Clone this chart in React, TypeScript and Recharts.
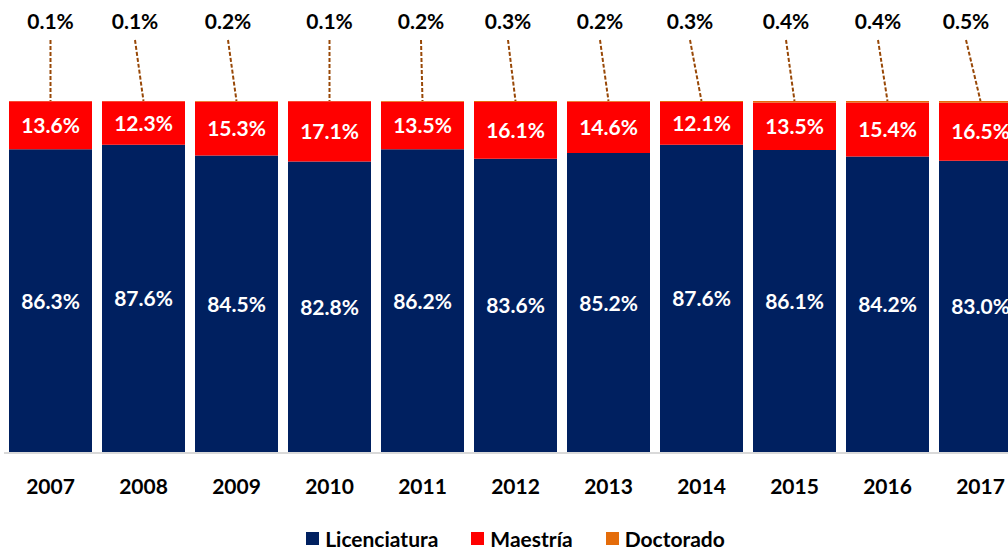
import React from 'react';
import { BarChart, Bar, XAxis, YAxis, Legend, LabelList } from 'recharts';

const years = ['2007', '2008', '2009', '2010', '2011', '2012', '2013', '2014', '2015', '2016', '2017'];
const licenciatura = [86.3, 87.6, 84.5, 82.8, 86.2, 83.6, 85.2, 87.6, 86.1, 84.2, 83.0];
const maestria = [13.6, 12.3, 15.3, 17.1, 13.5, 16.1, 14.6, 12.1, 13.5, 15.4, 16.5];
const doctorado = [0.1, 0.1, 0.2, 0.1, 0.2, 0.3, 0.2, 0.3, 0.4, 0.4, 0.5];
const seriesNames = ['Licenciatura', 'Maestría', 'Doctorado'];

// horizontal offset (px) of each callout label relative to its bar centre
const calloutShift = [0, -8.5, -8.5, 0, -1.5, -7.5, -8.5, -11.5, -8.5, -9.5, -14.5];

const data = years.map((year, i) => ({
  year,
  lic: licenciatura[i],
  mae: maestria[i],
  doc: doctorado[i],
}));

const NAVY = '#002060';
const RED = '#FF0000';
const ORANGE = '#E46C0A';
const LEADER = '#984807';
const FONT = 'Lato, "Open Sans", sans-serif';

const fmt = (v: any) => `${Number(v).toFixed(1)}%`;

const InnerLabel = (props: any) => {
  const { x, y, width, height, value } = props;
  return (
    <text
      x={Number(x) + Number(width) / 2}
      y={Number(y) + Number(height) / 2}
      dy={7.5}
      textAnchor="middle"
      fill="#FFFFFF"
      fontFamily={FONT}
      fontWeight={700}
      fontSize={21}
    >
      {fmt(value)}
    </text>
  );
};

const CalloutLabel = (props: any) => {
  const { x, y, width, value, index } = props;
  const cx = Number(x) + Number(width) / 2;
  const lx = cx + (calloutShift[index] || 0);
  return (
    <g>
      <text x={lx} y={29} textAnchor="middle" fill="#000000" fontFamily={FONT} fontWeight={700} fontSize={21}>
        {fmt(value)}
      </text>
      <line x1={lx} y1={40} x2={cx} y2={Number(y)} stroke={LEADER} strokeWidth={2} strokeDasharray="4 2" />
    </g>
  );
};

const YearTick = (props: any) => {
  const { x, y, payload } = props;
  return (
    <text x={x} y={Number(y) + 41} textAnchor="middle" fill="#000000" fontFamily={FONT} fontWeight={700} fontSize={21}>
      {payload.value}
    </text>
  );
};

const LegendContent = (props: any) => {
  const payload = [...(props.payload || [])].sort(
    (a: any, b: any) => seriesNames.indexOf(a.value) - seriesNames.indexOf(b.value)
  );
  return (
    <div
      style={{
        display: 'flex',
        justifyContent: 'center',
        gap: 33,
        paddingTop: 9,
        height: 30,
        boxSizing: 'border-box',
        fontFamily: FONT,
        fontWeight: 700,
        fontSize: 21,
        lineHeight: '20px',
        color: '#000000',
      }}
    >
      {payload.map((entry: any) => (
        <div key={entry.value} style={{ display: 'flex', alignItems: 'center' }}>
          <span style={{ display: 'inline-block', width: 13, height: 13, background: entry.color, marginRight: 6 }} />
          <span>{entry.value}</span>
        </div>
      ))}
    </div>
  );
};

export default function App() {
  return (
    <div style={{ position: 'absolute', left: 0, top: 0, width: 1008, height: 549, overflow: 'hidden', background: '#FFFFFF' }}>
      <BarChart
        width={1031}
        height={549}
        data={data}
        stackOffset="expand"
        barSize={83}
        margin={{ top: 101, right: 4, bottom: 0, left: 4 }}
      >
        <XAxis
          dataKey="year"
          interval={0}
          tickLine={false}
          tickSize={0}
          tickMargin={0}
          height={66}
          axisLine={{ stroke: '#D9D9D9', strokeWidth: 2 }}
          tick={<YearTick />}
        />
        <YAxis hide domain={[0, 1]} />
        <Legend verticalAlign="bottom" height={30} content={<LegendContent />} />
        <Bar dataKey="lic" name={seriesNames[0]} stackId="a" fill={NAVY} isAnimationActive={false}>
          <LabelList dataKey="lic" content={<InnerLabel />} />
        </Bar>
        <Bar dataKey="mae" name={seriesNames[1]} stackId="a" fill={RED} isAnimationActive={false}>
          <LabelList dataKey="mae" content={<InnerLabel />} />
        </Bar>
        <Bar dataKey="doc" name={seriesNames[2]} stackId="a" fill={ORANGE} isAnimationActive={false}>
          <LabelList dataKey="doc" content={<CalloutLabel />} />
        </Bar>
      </BarChart>
    </div>
  );
}
